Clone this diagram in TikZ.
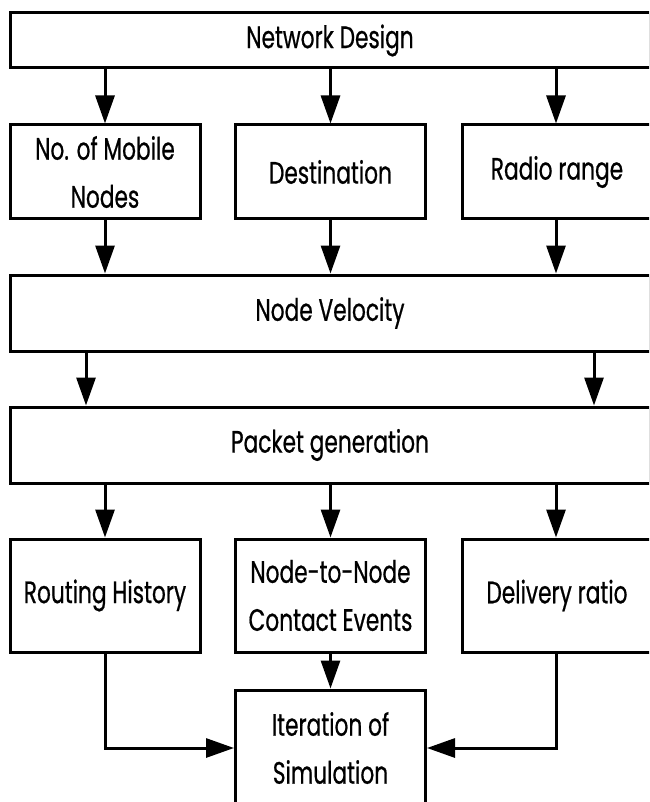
\documentclass[tikz,border=0pt]{standalone}
\usepackage{fontspec}
\setmainfont{Poppins}[FakeStretch=0.7,FakeBold=0.6]
\usetikzlibrary{arrows.meta,calc}
\tikzset{
  box/.style={draw=black, line width=3pt, inner sep=0pt, align=center,
    font=\fontsize{31}{48}\selectfont, minimum width=190pt},
  wide/.style={box, minimum width=640pt},
  arr/.style={line width=3pt, -{Triangle[length=28pt,width=19pt]}},
  link/.style={line width=3pt, line cap=butt}
}
\begin{document}
\begin{tikzpicture}[x=1pt,y=-1pt]
\clip (0,0) rectangle (649,802);
\fill[white] (0,0) rectangle (649,802);
\node[wide, minimum height=55pt] (nd) at (330,40.5) {Network Design};
\node[box, minimum height=94pt] (ra) at (105,172) {No. of Mobile\\Nodes};
\node[box, minimum height=94pt] (rb) at (330.5,172) {Destination};
\node[box, minimum height=94pt] (rc) at (557,172) {Radio range};
\node[wide, minimum height=76pt] (nv) at (330,313) {Node Velocity};
\node[wide, minimum height=76pt] (pg) at (330,445) {Packet generation};
\node[box, minimum height=113pt] (ha) at (105,595.5) {Routing History};
\node[box, minimum height=113pt] (hb) at (330.5,595.5) {Node-to-Node\\Contact Events};
\node[box, minimum height=113pt] (hc) at (557,595.5) {Delivery ratio};
\node[box, minimum height=116pt] (it) at (330.5,748) {Iteration of\\Simulation};
\coordinate (xa) at (105,0);
\coordinate (xb) at (330.5,0);
\coordinate (xc) at (556,0);
\coordinate (xl) at (86,0);
\coordinate (xr) at (594,0);
\foreach \x/\n in {xa/ra,xb/rb,xc/rc}{
  \draw[arr] (nd.south -| \x) -- (\n.north -| \x);
  \draw[arr] (\n.south -| \x) -- (nv.north -| \x);
}
\draw[arr] (nv.south -| xl) -- (pg.north -| xl);
\draw[arr] (nv.south -| xr) -- (pg.north -| xr);
\foreach \x/\n in {xa/ha,xb/hb,xc/hc}{
  \draw[arr] (pg.south -| \x) -- (\n.north -| \x);
}
\draw[arr] (hb.south -| xb) -- (it.north -| xb);
\draw[arr] (ha.south -| xa) |- (it.west);
\draw[arr] (hc.south -| xc) |- (it.east);
\end{tikzpicture}
\end{document}
